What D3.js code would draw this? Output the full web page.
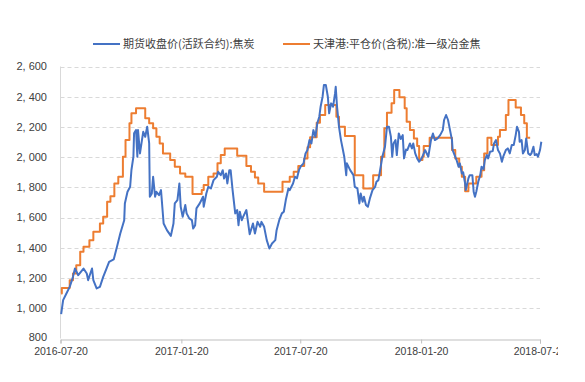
<!DOCTYPE html>
<html><head><meta charset="utf-8">
<script src="https://cdn.jsdelivr.net/npm/d3@7"></script>
<style>
html,body{margin:0;padding:0;background:#fff;}
svg{display:block;}
</style></head>
<body>
<div id="chart"></div>
<script>
// Series 1: 期货收盘价(活跃合约):焦炭
const futuresDates = ["2016-07-21","2016-07-24","2016-07-29","2016-08-03","2016-08-08","2016-08-11","2016-08-16","2016-08-24","2016-08-29","2016-08-31","2016-09-06","2016-09-08","2016-09-13","2016-09-18","2016-09-23","2016-09-28","2016-10-02","2016-10-09","2016-10-14","2016-10-19","2016-10-25","2016-10-26","2016-10-30","2016-11-03","2016-11-05","2016-11-08","2016-11-09","2016-11-12","2016-11-14","2016-11-15","2016-11-18","2016-11-21","2016-11-23","2016-11-26","2016-11-29","2016-12-02","2016-12-03","2016-12-06","2016-12-08","2016-12-11","2016-12-13","2016-12-17","2016-12-20","2016-12-24","2016-12-29","2017-01-04","2017-01-08","2017-01-10","2017-01-14","2017-01-17","2017-01-19","2017-01-22","2017-01-26","2017-01-28","2017-02-01","2017-02-05","2017-02-07","2017-02-10","2017-02-12","2017-02-17","2017-02-22","2017-02-23","2017-02-27","2017-03-02","2017-03-06","2017-03-10","2017-03-15","2017-03-17","2017-03-21","2017-03-24","2017-03-26","2017-03-29","2017-03-31","2017-04-03","2017-04-05","2017-04-08","2017-04-12","2017-04-15","2017-04-17","2017-04-19","2017-04-22","2017-04-24","2017-04-29","2017-05-04","2017-05-09","2017-05-12","2017-05-16","2017-05-20","2017-05-22","2017-05-26","2017-05-30","2017-06-03","2017-06-07","2017-06-12","2017-06-14","2017-06-18","2017-06-22","2017-06-25","2017-06-28","2017-07-02","2017-07-04","2017-07-09","2017-07-12","2017-07-15","2017-07-18","2017-07-21","2017-07-25","2017-07-28","2017-07-31","2017-08-03","2017-08-06","2017-08-09","2017-08-12","2017-08-15","2017-08-18","2017-08-20","2017-08-23","2017-08-25","2017-08-28","2017-08-31","2017-09-02","2017-09-05","2017-09-08","2017-09-11","2017-09-12","2017-09-14","2017-09-17","2017-09-20","2017-09-23","2017-09-25","2017-09-28","2017-09-29","2017-10-04","2017-10-09","2017-10-11","2017-10-15","2017-10-18","2017-10-20","2017-10-23","2017-10-25","2017-10-28","2017-10-31","2017-11-03","2017-11-07","2017-11-11","2017-11-13","2017-11-16","2017-11-19","2017-11-22","2017-11-26","2017-11-29","2017-12-02","2017-12-05","2017-12-07","2017-12-09","2017-12-12","2017-12-14","2017-12-17","2017-12-20","2017-12-23","2017-12-25","2017-12-28","2017-12-30","2018-01-03","2018-01-06","2018-01-08","2018-01-11","2018-01-14","2018-01-17","2018-01-19","2018-01-22","2018-01-26","2018-01-31","2018-02-04","2018-02-07","2018-02-10","2018-02-14","2018-02-18","2018-02-22","2018-02-24","2018-02-27","2018-03-02","2018-03-05","2018-03-08","2018-03-09","2018-03-12","2018-03-15","2018-03-18","2018-03-20","2018-03-23","2018-03-25","2018-03-28","2018-03-29","2018-04-02","2018-04-04","2018-04-08","2018-04-10","2018-04-12","2018-04-14","2018-04-17","2018-04-20","2018-04-22","2018-04-25","2018-04-27","2018-04-30","2018-05-02","2018-05-05","2018-05-09","2018-05-11","2018-05-14","2018-05-17","2018-05-20","2018-05-23","2018-05-25","2018-05-29","2018-06-01","2018-06-04","2018-06-07","2018-06-10","2018-06-13","2018-06-15","2018-06-18","2018-06-19","2018-06-22","2018-06-24","2018-06-27","2018-06-29","2018-07-02","2018-07-05","2018-07-07","2018-07-10","2018-07-12","2018-07-15","2018-07-17","2018-07-20","2018-07-22"];
const futuresValues = [961,1054,1098,1142,1208,1263,1219,1263,1230,1186,1263,1186,1131,1142,1208,1263,1307,1323,1407,1495,1583,1694,1771,1804,1915,2003,2158,2179,2003,2179,2025,2113,2168,2135,2201,2091,1738,1760,1870,1738,1771,1749,1782,1561,1517,1479,1561,1694,1716,1826,1672,1605,1683,1628,1595,1583,1528,1550,1661,1694,1738,1672,1760,1804,1793,1848,1870,1903,1881,1914,1859,1892,1826,1914,1914,1782,1628,1650,1550,1639,1583,1605,1650,1490,1561,1495,1572,1539,1572,1539,1451,1396,1429,1451,1517,1583,1628,1639,1716,1793,1782,1826,1870,1860,1914,1941,1959,2025,2047,2113,2091,2179,2135,2224,2268,2334,2400,2477,2477,2400,2290,2356,2334,2422,2466,2334,2201,2113,2047,2003,1881,1959,1914,1881,1804,1793,1694,1760,1705,1738,1683,1672,1727,1782,1804,1837,1848,1925,2003,2069,2201,2201,2135,2003,2091,2113,2014,2157,2120,2146,1992,2050,2047,2091,2058,2091,2025,1992,1970,1981,2003,2047,2003,2113,2157,2113,2124,2146,2179,2246,2279,2246,2179,2113,2047,2014,1981,1937,1959,1892,1900,1826,1782,1859,1881,1881,1771,1738,1771,1837,1881,1937,1920,1981,2014,1992,2036,2040,2091,2113,2047,2025,1970,2003,2047,2058,2025,2080,2080,2146,2201,2168,2102,2113,2025,2047,2124,2025,2014,2025,2069,2014,2020,2003,2047,2102];

// Series 2: 天津港:平仓价(含税):准一级冶金焦 (step changes)
const spotDates = ["2016-07-21","2016-07-22","2016-08-03","2016-08-08","2016-08-13","2016-08-19","2016-08-24","2016-09-02","2016-09-08","2016-09-18","2016-09-23","2016-09-29","2016-10-04","2016-10-10","2016-10-16","2016-10-23","2016-10-27","2016-11-02","2016-11-05","2016-11-12","2016-11-26","2016-12-02","2016-12-08","2016-12-13","2016-12-18","2016-12-23","2017-01-03","2017-01-10","2017-01-18","2017-01-26","2017-02-06","2017-02-20","2017-02-23","2017-03-02","2017-03-10","2017-03-16","2017-03-21","2017-03-27","2017-04-15","2017-04-29","2017-05-06","2017-05-12","2017-05-17","2017-05-26","2017-06-23","2017-07-04","2017-07-10","2017-07-17","2017-07-26","2017-07-31","2017-08-04","2017-08-14","2017-08-19","2017-08-27","2017-09-13","2017-09-17","2017-09-26","2017-10-11","2017-10-24","2017-11-08","2017-11-20","2017-11-25","2017-11-29","2017-12-06","2017-12-10","2017-12-18","2017-12-26","2017-12-29","2018-01-03","2018-01-09","2018-01-14","2018-01-17","2018-01-22","2018-01-24","2018-02-02","2018-03-08","2018-03-13","2018-03-19","2018-03-23","2018-03-28","2018-04-02","2018-04-14","2018-04-22","2018-04-26","2018-05-01","2018-05-07","2018-05-17","2018-05-20","2018-05-29","2018-06-02","2018-06-13","2018-06-21","2018-06-26","2018-06-30","2018-07-05"];
const spotValues = [1098,1135,1186,1230,1285,1374,1407,1451,1506,1561,1605,1705,1742,1826,1870,2003,2113,2224,2290,2323,2257,2224,2191,2135,2091,2025,1981,1937,1892,1870,1756,1782,1815,1870,1892,1959,2014,2058,2010,1941,1903,1866,1826,1771,1837,1870,1903,1941,1992,2065,2131,2228,2279,2345,2268,2201,2140,1881,1793,1881,2003,2191,2294,2356,2444,2396,2323,2235,2179,2124,2074,1981,2003,2074,2128,2047,1992,1937,1870,1775,1826,1870,1914,2025,2128,2080,2135,2179,2279,2378,2328,2279,2224,2128,2128];

const seriesNames = ["期货收盘价(活跃合约):焦炭", "天津港:平仓价(含税):准一级冶金焦"];
const seriesColors = ["#4472C4", "#ED7D31"];
const yTicks = [800,1000,1200,1400,1600,1800,2000,2200,2400,2600];
const xTickLabels = ["2016-07-20","2017-01-20","2017-07-20","2018-01-20","2018-07-20"];

const W = 558, H = 382;
const margin = {left: 60.5, right: W - 540, top: 66.5, bottom: H - 338.5};
const parse = d3.timeParse("%Y-%m-%d");

const svg = d3.select("#chart").append("svg").attr("width", W).attr("height", H)
  .style("font-family", "'Liberation Sans', Arial, sans-serif");

const x = d3.scaleTime()
  .domain([parse(xTickLabels[0]), parse(xTickLabels[xTickLabels.length-1])])
  .range([margin.left, W - margin.right]);
const y = d3.scaleLinear().domain([800, 2600]).range([H - margin.bottom, margin.top]);

// grid
svg.append("g").selectAll("line").data(yTicks.slice(1)).join("line")
  .attr("x1", margin.left).attr("x2", W - margin.right)
  .attr("y1", d => Math.round(y(d)) + 0.5).attr("y2", d => Math.round(y(d)) + 0.5)
  .attr("stroke", "#d9d9d9").attr("stroke-width", 1).attr("stroke-dasharray", "4,3");

// y axis line
svg.append("line").attr("x1", margin.left).attr("x2", margin.left)
  .attr("y1", margin.top).attr("y2", y(800)).attr("stroke", "#d9d9d9");

// y labels
const fmt = d3.format(",");
svg.append("g").selectAll("text").data(yTicks).join("text")
  .attr("x", 47).attr("y", d => y(d) - (d === 800 ? 1.5 : 0)).attr("dy", "0.35em")
  .attr("text-anchor", "end").attr("font-size", 11).attr("fill", "#404040")
  .text(d => fmt(d).replace(",", ", "));

// x axis
const xAxis = d3.axisBottom(x).tickValues(xTickLabels.map(parse)).tickSize(4)
  .tickFormat(d3.timeFormat("%Y-%m-%d"));
const gx = svg.append("g").attr("transform", `translate(0,${Math.round(y(800)) + 0.5})`).call(xAxis);
gx.select(".domain").attr("stroke", "#bfbfbf");
gx.selectAll(".tick line").attr("stroke", "#bfbfbf");
gx.selectAll(".tick text").attr("font-size", 10.5).attr("fill", "#404040")
  .attr("font-family", "'Liberation Sans', Arial, sans-serif").attr("dy", "0.71em").attr("y", 8);

// lines
const futures = futuresDates.map((d, i) => ({date: parse(d), value: futuresValues[i]}));
const spot = spotDates.map((d, i) => ({date: parse(d), value: spotValues[i]}));

svg.append("path").datum(spot)
  .attr("fill", "none").attr("stroke", seriesColors[1]).attr("stroke-width", 2)
  .attr("stroke-linejoin", "round")
  .attr("d", d3.line().x(d => x(d.date)).y(d => y(d.value)).curve(d3.curveStepAfter));

svg.append("path").datum(futures)
  .attr("fill", "none").attr("stroke", seriesColors[0]).attr("stroke-width", 2)
  .attr("stroke-linejoin", "round")
  .attr("d", d3.line().x(d => x(d.date)).y(d => y(d.value)));

// legend
const legendX = [93, 283];
const lg = svg.append("g");
seriesNames.forEach((name, i) => {
  lg.append("line").attr("x1", legendX[i]).attr("x2", legendX[i] + 27)
    .attr("y1", 44).attr("y2", 44).attr("stroke", seriesColors[i]).attr("stroke-width", 2);
  lg.append("text").attr("x", legendX[i] + 30).attr("y", 44).attr("dy", "0.35em")
    .attr("font-size", 11).attr("fill", "#404040")
    .attr("font-family", "'Noto Sans CJK SC', sans-serif")
    .text(name);
});
</script>
</body></html>
